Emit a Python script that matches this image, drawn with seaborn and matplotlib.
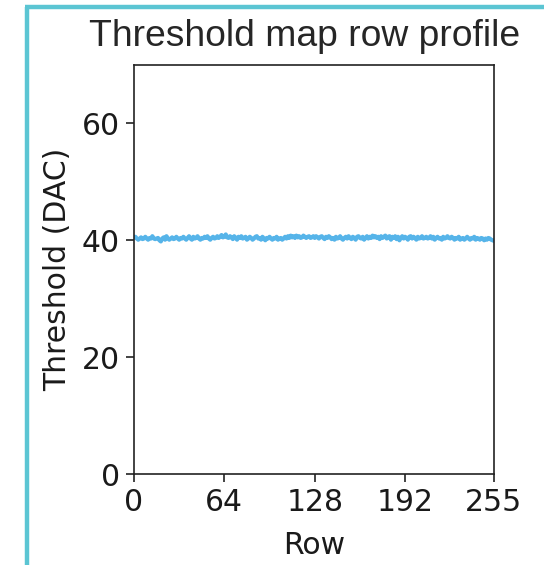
import numpy as np
import pandas as pd
import matplotlib
matplotlib.use("Agg")
import matplotlib.pyplot as plt
import seaborn as sns
from matplotlib.lines import Line2D

# ---- data ----
threshold = [
    40.5, 40.6, 40.3, 40.1, 40.3, 40.5, 40.2, 40.3, 40.6, 40.3, 40.1, 40.4, 40.3, 40.7, 40.3, 40.2,
    40.3, 40.4, 40.0, 39.8, 40.3, 40.5, 40.1, 40.7, 40.3, 40.1, 40.3, 40.5, 40.2, 40.3, 40.6, 40.3,
    40.1, 40.4, 40.3, 40.6, 40.3, 40.1, 40.4, 40.7, 40.3, 40.1, 40.6, 40.3, 40.4, 40.7, 40.3, 40.1,
    40.4, 40.3, 40.6, 40.4, 40.7, 40.3, 40.1, 40.4, 40.6, 40.3, 40.4, 40.7, 40.4, 40.6, 40.9, 40.5,
    40.6, 41.0, 40.5, 40.4, 40.7, 40.5, 40.2, 40.7, 40.4, 40.1, 40.6, 40.4, 40.7, 40.3, 40.4, 40.6,
    40.1, 40.3, 40.6, 40.4, 40.1, 40.3, 40.6, 40.7, 40.3, 40.4, 40.1, 40.6, 40.3, 40.0, 40.4, 40.3,
    40.6, 40.3, 40.1, 40.4, 40.3, 40.6, 40.1, 40.3, 40.4, 40.1, 40.3, 40.6, 40.3, 40.7, 40.4, 40.8,
    40.5, 40.7, 40.4, 40.8, 40.5, 40.7, 40.4, 40.5, 40.8, 40.6, 40.4, 40.6, 40.7, 40.4, 40.5, 40.7,
    40.4, 40.7, 40.5, 40.3, 40.6, 40.7, 40.4, 40.2, 40.6, 40.4, 40.7, 40.5, 40.2, 40.4, 40.1, 40.6,
    40.3, 40.4, 40.7, 40.3, 40.1, 40.4, 40.6, 40.3, 40.7, 40.4, 40.2, 40.6, 40.4, 40.1, 40.6, 40.7,
    40.4, 40.3, 40.6, 40.1, 40.4, 40.7, 40.3, 40.6, 40.4, 40.8, 40.5, 40.7, 40.4, 40.6, 40.2, 40.7,
    40.4, 40.6, 40.8, 40.3, 40.6, 40.7, 40.1, 40.6, 40.4, 40.7, 40.2, 40.6, 40.0, 40.4, 40.7, 40.3,
    40.6, 40.4, 40.1, 40.6, 40.7, 40.3, 40.6, 40.4, 40.1, 40.6, 40.3, 40.4, 40.7, 40.3, 40.4, 40.6,
    40.3, 40.4, 40.7, 40.3, 40.6, 40.1, 40.4, 40.6, 40.3, 40.4, 40.1, 40.6, 40.3, 40.4, 40.7, 40.4,
    40.3, 40.6, 40.4, 40.1, 40.4, 40.3, 40.6, 40.1, 40.3, 40.4, 40.1, 40.3, 40.6, 40.3, 40.1, 40.4,
    40.3, 40.6, 40.1, 40.4, 40.3, 40.1, 40.4, 40.3, 40.0, 40.3, 40.1, 40.4, 40.3, 40.1, 40.0, 39.9,
]
rows = list(range(len(threshold)))
x_ticks = [0, 64, 128, 192, 255]
y_ticks = [0, 20, 40, 60]

df = pd.DataFrame({"Row": rows, "Threshold": threshold})

sns.set_style("ticks")
plt.rcParams["font.family"] = ["DejaVu Sans"]
text_color = "#1a1a1a"

fig = plt.figure(figsize=(5.44, 5.65), dpi=100)
ax = fig.add_axes([134 / 544, 1 - 474 / 565, 360 / 544, 409 / 565])

sns.lineplot(data=df, x="Row", y="Threshold", ax=ax, color="#56B4E9", linewidth=3.0)

ax.set_xlim(0, 255)
ax.set_ylim(0, 70)
ax.set_xticks(x_ticks)
ax.set_yticks(y_ticks)
ax.tick_params(axis="both", labelsize=21.5, length=6, width=1.2, color="#222222",
               labelcolor=text_color, pad=4)
ax.set_xlabel("Row", fontsize=21.5, color=text_color, labelpad=10)
ax.set_ylabel("Threshold (DAC)", fontsize=21.5, color=text_color, labelpad=7)
for s in ax.spines.values():
    s.set_visible(True)
    s.set_linewidth(1.2)
    s.set_color("#222222")

fig.text(305 / 544, 1 - 37 / 565, "Threshold map row profile", ha="center", va="center",
         fontsize=26.8, family="Liberation Sans", color="#262626")

# frame decoration of the screenshot
border = "#5BC5D3"
fig.add_artist(Line2D([27 / 544, 27 / 544], [0, 1 - 7 / 565], transform=fig.transFigure,
                      color=border, linewidth=3.2, solid_capstyle="butt"))
fig.add_artist(Line2D([25 / 544, 1], [1 - 7 / 565, 1 - 7 / 565], transform=fig.transFigure,
                      color=border, linewidth=3.2, solid_capstyle="butt"))

fig.savefig("out.png", dpi=100)
